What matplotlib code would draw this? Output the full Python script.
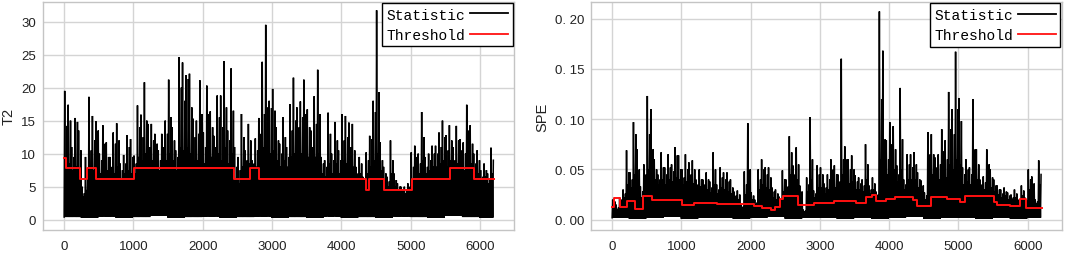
import matplotlib
matplotlib.use("Agg")
import matplotlib.pyplot as plt
from matplotlib.ticker import FuncFormatter

# ---------------- data ----------------
BIN = 50          # samples per bin
SEG = 250         # samples per floor segment

# T2 statistic: highest spike per 50-sample bin, a second spike, and the dense-mass level
t2_peak = [19.5, 17.4, 11.0, 15.4, 13.5, 5.0, 9.5, 18.6, 15.7, 14.9,
           10.0, 14.3, 11.7, 9.5, 13.2, 14.6, 8.5, 9.8, 12.8, 12.2,
           9.7, 17.3, 15.9, 20.8, 14.5, 14.5, 13.0, 10.5, 13.0, 15.0,
           21.2, 14.0, 10.5, 24.6, 23.8, 21.9, 22.1, 15.3, 15.0, 21.1,
           13.2, 20.3, 16.4, 12.7, 18.8, 18.8, 24.0, 13.5, 22.9, 11.0,
           9.5, 16.0, 10.5, 14.5, 9.0, 12.3, 15.4, 23.9, 29.5, 18.0,
           19.8, 14.0, 11.5, 15.5, 11.0, 17.5, 21.5, 17.0, 17.9, 21.2,
           16.7, 13.5, 18.7, 22.7, 9.5, 9.0, 16.2, 10.0, 14.8, 10.5,
           16.0, 15.7, 14.7, 14.5, 8.0, 9.5, 6.5, 10.2, 12.7, 18.0,
           31.7, 11.7, 8.0, 6.5, 12.0, 7.0, 5.5, 5.0, 5.0, 5.5,
           10.2, 11.2, 10.0, 16.3, 9.5, 10.0, 11.2, 11.2, 13.2, 15.0,
           12.8, 14.3, 11.0, 14.2, 12.2, 11.7, 17.4, 14.3, 10.0, 10.5,
           7.5, 8.5, 7.0, 10.9]
t2_second = [14.2, 15.0, 9.5, 14.8, 10.5, 4.0, 7.5, 10.5, 12.0, 13.5,
             9.0, 11.5, 9.5, 8.0, 11.5, 12.0, 7.5, 8.5, 11.0, 9.5,
             8.5, 14.0, 12.5, 15.0, 11.0, 12.0, 11.5, 9.0, 11.0, 13.0,
             15.5, 12.0, 9.5, 20.0, 18.0, 21.3, 17.0, 12.5, 13.0, 16.0,
             11.0, 16.0, 14.0, 11.0, 15.5, 14.0, 17.0, 12.0, 16.5, 8.0,
             7.5, 12.5, 9.0, 12.0, 8.5, 10.5, 13.0, 16.0, 17.0, 16.9,
             16.5, 12.0, 10.0, 12.5, 9.5, 13.5, 15.0, 14.0, 15.5, 16.0,
             14.0, 11.0, 14.5, 16.0, 8.5, 8.0, 13.0, 9.0, 12.0, 9.0,
             12.0, 12.5, 11.0, 10.5, 7.0, 8.5, 6.0, 9.0, 12.2, 16.3,
             19.3, 9.0, 7.0, 5.8, 9.0, 6.0, 5.0, 4.5, 4.5, 5.0,
             8.0, 9.5, 8.5, 12.5, 8.0, 9.0, 10.0, 10.0, 11.0, 12.5,
             10.5, 12.0, 9.0, 12.0, 10.5, 10.0, 13.5, 11.5, 8.5, 9.0,
             6.5, 7.5, 6.0, 9.0]
t2_mass = [9.0, 8.5, 7.5, 8.0, 6.5, 3.5, 4.5, 8.0, 7.5, 8.0,
           7.0, 8.5, 7.5, 6.5, 7.0, 8.0, 6.0, 7.0, 7.5, 7.0,
           7.0, 9.5, 9.0, 10.0, 8.5, 9.0, 8.0, 7.5, 8.5, 9.0,
           10.0, 9.0, 7.5, 11.0, 10.5, 11.0, 10.0, 9.0, 9.0, 10.0,
           8.5, 10.0, 9.5, 8.0, 10.0, 9.0, 11.0, 8.5, 10.0, 6.0,
           5.5, 8.0, 6.5, 8.5, 7.0, 8.0, 9.0, 11.0, 12.0, 10.0,
           10.5, 9.0, 8.0, 9.0, 8.0, 9.5, 10.0, 9.5, 10.0, 10.5,
           9.5, 8.0, 9.5, 10.0, 7.0, 6.5, 8.5, 7.0, 8.5, 7.0,
           9.0, 8.5, 8.5, 8.0, 6.0, 7.0, 5.5, 7.0, 8.0, 9.0,
           10.0, 7.5, 6.0, 5.0, 7.0, 5.0, 4.5, 4.0, 4.0, 4.5,
           5.5, 7.5, 7.0, 9.0, 7.0, 7.5, 8.0, 8.0, 8.5, 9.0,
           8.0, 9.0, 7.5, 8.5, 8.0, 7.5, 9.0, 8.5, 7.0, 7.0,
           6.0, 6.5, 5.5, 7.0]
t2_floor = [0.4, 0.3, 0.5, 0.3, 0.4, 0.6, 0.3, 0.4, 0.5, 0.3,
            0.4, 0.5, 0.3, 0.4, 0.3, 0.5, 0.3, 0.4, 0.3, 0.5,
            0.4, 0.3, 0.6, 0.4, 0.3]

# T2 control limit (step edges in samples, level of each step)
t2_thr_edges = [0, 30, 222, 333, 463, 1006, 2449, 2675, 2810, 4359, 4393,
                4609, 5023, 5571, 5913, 6200]
t2_thr_vals = [9.3, 7.8, 6.2, 7.8, 6.2, 7.8, 6.2, 7.8, 6.2, 4.5, 6.2,
               4.5, 6.2, 7.8, 6.2]

# SPE statistic
spe_peak = [0.020, 0.015, 0.022, 0.030, 0.069, 0.047, 0.097, 0.070, 0.033, 0.055,
            0.123, 0.110, 0.060, 0.045, 0.067, 0.052, 0.065, 0.055, 0.072, 0.064,
            0.050, 0.065, 0.057, 0.059, 0.040, 0.050, 0.040, 0.047, 0.038, 0.067,
            0.035, 0.052, 0.047, 0.047, 0.040, 0.028, 0.029, 0.015, 0.048, 0.096,
            0.027, 0.020, 0.050, 0.060, 0.052, 0.052, 0.032, 0.030, 0.023, 0.049,
            0.040, 0.083, 0.054, 0.072, 0.034, 0.010, 0.042, 0.102, 0.029, 0.054,
            0.052, 0.036, 0.045, 0.060, 0.054, 0.045, 0.160, 0.073, 0.060, 0.064,
            0.044, 0.042, 0.040, 0.075, 0.034, 0.042, 0.028, 0.207, 0.168, 0.079,
            0.097, 0.093, 0.054, 0.131, 0.040, 0.065, 0.065, 0.067, 0.047, 0.039,
            0.027, 0.087, 0.085, 0.062, 0.065, 0.090, 0.079, 0.127, 0.110, 0.167,
            0.121, 0.052, 0.060, 0.052, 0.120, 0.070, 0.040, 0.043, 0.070, 0.050,
            0.040, 0.034, 0.030, 0.032, 0.027, 0.025, 0.030, 0.020, 0.034, 0.022,
            0.050, 0.043, 0.020, 0.059]
spe_second = [0.018, 0.012, 0.020, 0.026, 0.047, 0.040, 0.085, 0.050, 0.028, 0.045,
              0.085, 0.070, 0.050, 0.040, 0.052, 0.045, 0.052, 0.048, 0.064, 0.050,
              0.042, 0.050, 0.045, 0.050, 0.035, 0.040, 0.035, 0.040, 0.032, 0.050,
              0.030, 0.042, 0.040, 0.038, 0.032, 0.024, 0.025, 0.013, 0.035, 0.050,
              0.024, 0.017, 0.040, 0.050, 0.045, 0.042, 0.028, 0.026, 0.020, 0.040,
              0.033, 0.067, 0.045, 0.055, 0.028, 0.009, 0.035, 0.060, 0.026, 0.045,
              0.045, 0.032, 0.040, 0.050, 0.045, 0.038, 0.060, 0.060, 0.050, 0.050,
              0.038, 0.036, 0.034, 0.055, 0.030, 0.036, 0.025, 0.120, 0.080, 0.060,
              0.075, 0.070, 0.045, 0.080, 0.035, 0.055, 0.052, 0.055, 0.040, 0.034,
              0.024, 0.065, 0.065, 0.052, 0.055, 0.068, 0.060, 0.090, 0.085, 0.110,
              0.098, 0.045, 0.050, 0.045, 0.070, 0.055, 0.035, 0.037, 0.055, 0.042,
              0.034, 0.030, 0.026, 0.028, 0.024, 0.022, 0.026, 0.018, 0.029, 0.019,
              0.040, 0.036, 0.018, 0.045]
spe_mass = [0.015, 0.010, 0.018, 0.022, 0.035, 0.032, 0.045, 0.040, 0.022, 0.035,
            0.050, 0.048, 0.040, 0.035, 0.040, 0.035, 0.040, 0.038, 0.042, 0.040,
            0.035, 0.038, 0.035, 0.036, 0.030, 0.033, 0.028, 0.030, 0.027, 0.035,
            0.026, 0.032, 0.030, 0.028, 0.026, 0.020, 0.020, 0.012, 0.025, 0.035,
            0.020, 0.015, 0.030, 0.035, 0.032, 0.030, 0.022, 0.020, 0.018, 0.028,
            0.025, 0.045, 0.035, 0.040, 0.022, 0.008, 0.028, 0.040, 0.022, 0.032,
            0.032, 0.026, 0.030, 0.035, 0.032, 0.030, 0.045, 0.040, 0.036, 0.038,
            0.030, 0.030, 0.028, 0.040, 0.026, 0.030, 0.022, 0.060, 0.055, 0.045,
            0.050, 0.050, 0.038, 0.050, 0.030, 0.040, 0.040, 0.040, 0.032, 0.028,
            0.020, 0.045, 0.045, 0.040, 0.040, 0.045, 0.042, 0.055, 0.050, 0.060,
            0.055, 0.035, 0.038, 0.035, 0.045, 0.040, 0.030, 0.030, 0.040, 0.032,
            0.028, 0.025, 0.022, 0.024, 0.020, 0.020, 0.022, 0.016, 0.024, 0.017,
            0.030, 0.028, 0.016, 0.035]
spe_floor = [0.002, 0.001, 0.002, 0.003, 0.001, 0.002, 0.002, 0.001, 0.002, 0.003,
             0.001, 0.002, 0.002, 0.001, 0.002, 0.001, 0.002, 0.003, 0.001, 0.002,
             0.002, 0.001, 0.002, 0.001, 0.002]

spe_thr_edges = [0, 20, 110, 220, 335, 450, 570, 1005, 1180, 1510, 1800, 2050,
                 2170, 2300, 2350, 2420, 2470, 2680, 2760, 2910, 3200, 3525,
                 3670, 3745, 3815, 3960, 4080, 4350, 4400, 4610, 4840, 5025,
                 5095, 5510, 5560, 5750, 5890, 5970, 6200]
spe_thr_vals = [0.013, 0.0212, 0.0123, 0.0189, 0.0108, 0.0232, 0.0200, 0.0142,
                0.0166, 0.0160, 0.0152, 0.0135, 0.0113, 0.0099, 0.0123, 0.0210,
                0.0239, 0.0142, 0.0150, 0.0170, 0.0189, 0.0166, 0.0225, 0.0245,
                0.0189, 0.0205, 0.0225, 0.0200, 0.0139, 0.0225, 0.0210, 0.0172,
                0.0232, 0.0180, 0.0146, 0.0139, 0.0205, 0.0116]

x_ticks = [0, 1000, 2000, 3000, 4000, 5000, 6000]
t2_yticks = [0, 5, 10, 15, 20, 25, 30]
spe_yticks = [0.00, 0.05, 0.10, 0.15, 0.20]


def build(peak, second, mass, floor):
    xs, ys = [], []
    for i, (p, s, m) in enumerate(zip(peak, second, mass)):
        f = floor[(i * BIN) // SEG]
        b = i * BIN
        xs += [b, b + 8, b + 17, b + 25, b + 33, b + 42]
        ys += [f, p, f, m, f, s]
    return xs, ys


fig = plt.figure(figsize=(10.65, 2.55), dpi=100)
ax1 = fig.add_axes([43 / 1065, 1 - 231 / 255, (514 - 43) / 1065, (231 - 2.7) / 255])
ax2 = fig.add_axes([591 / 1065, 1 - 231 / 255, (1061.7 - 591) / 1065, (231 - 3) / 255])

grid_c = "#d4d4d4"

panels = [
    (ax1, t2_peak, t2_second, t2_mass, t2_floor, t2_thr_edges, t2_thr_vals, t2_yticks,
     (-1.56, 33.0), "T2", lambda v, p: f"{v:g}"),
    (ax2, spe_peak, spe_second, spe_mass, spe_floor, spe_thr_edges, spe_thr_vals, spe_yticks,
     (-0.0102, 0.2164), "SPE", lambda v, p: f"{v:.2f}".replace(".", ". ")),
]

for ax, pk, sc, ms, fl, ed, tv, yt, yl, name, fmt in panels:
    xs, ys = build(pk, sc, ms, fl)
    l1, = ax.plot(xs, ys, color="black", lw=1.1, zorder=2, solid_joinstyle="miter")
    l2, = ax.step(ed, tv + [tv[-1]], where="post", color="#ff1010", lw=1.4, zorder=3)
    ax.set_xlim(-305, 6490)
    ax.set_ylim(*yl)
    ax.set_xticks(x_ticks)
    ax.set_yticks(yt)
    ax.yaxis.set_major_formatter(FuncFormatter(fmt))
    ax.grid(True, color=grid_c, lw=1.0, zorder=0)
    ax.set_axisbelow(True)
    for s in ax.spines.values():
        s.set_color("#c4c4c4")
        s.set_linewidth(1.0)
    ax.tick_params(axis="both", length=0, labelcolor="#222222", labelsize=9.5)
    ax.tick_params(axis="x", pad=7.5)
    ax.tick_params(axis="y", pad=5)
    for lab in ax.get_xticklabels() + ax.get_yticklabels():
        lab.set_fontfamily("Liberation Sans")
    ax.set_ylabel(name, fontsize=10.5, family="Liberation Sans", color="#222222", labelpad=4)
    leg = ax.legend([l1, l2], ["Statistic", "Threshold"], loc="upper right",
                    markerfirst=False, fancybox=False, framealpha=1,
                    edgecolor="black", borderaxespad=0.1,
                    prop=dict(family="Liberation Mono", size=10.5),
                    handlelength=2.6, handletextpad=0.35, borderpad=0.3,
                    labelspacing=0.45)
    leg.get_frame().set_linewidth(1.0)
    leg.set_zorder(5)
    for h in leg.get_lines():
        h.set_linewidth(1.3)

fig.savefig("out.png", dpi=100)
